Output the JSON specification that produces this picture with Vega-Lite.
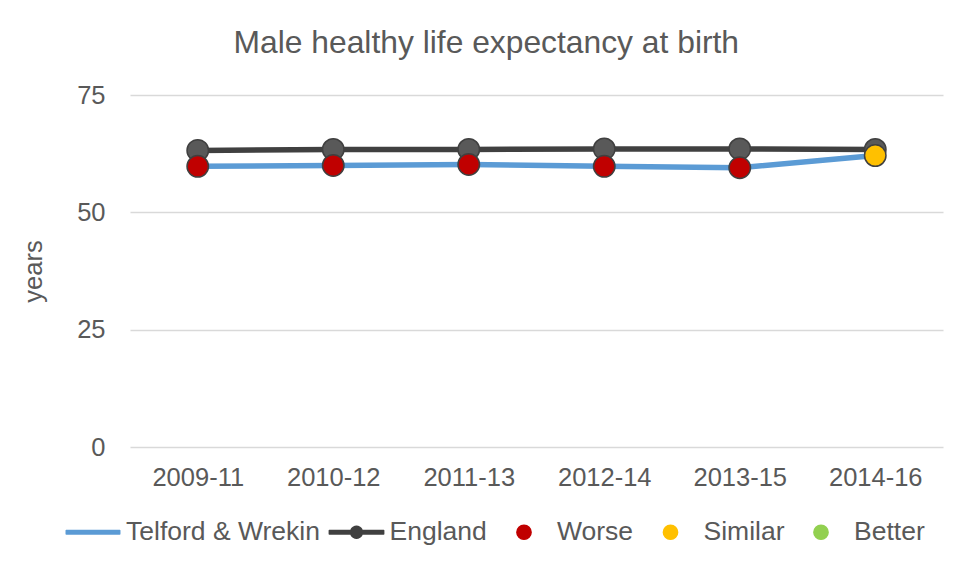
{
  "$schema": "https://vega.github.io/schema/vega-lite/v6.json",
  "width": 813,
  "height": 352,
  "autosize": {"type": "none"},
  "padding": {"left": 130, "top": 95, "right": 22, "bottom": 124},
  "background": "white",
  "title": {
    "text": "Male healthy life expectancy at birth",
    "fontSize": 31.8,
    "font": "Liberation Sans",
    "fontWeight": "normal",
    "color": "#595959",
    "anchor": "middle",
    "frame": "bounds",
    "baseline": "alphabetic",
    "offset": -2,
    "dx": 4
  },
  "config": {
    "font": "Liberation Sans",
    "view": {"stroke": null},
    "axis": {
      "labelFont": "Liberation Sans",
      "titleFont": "Liberation Sans",
      "labelColor": "#595959",
      "titleColor": "#595959",
      "labelFontSize": 25.5,
      "titleFontSize": 25.5,
      "titleFontWeight": "normal",
      "ticks": false,
      "domain": false,
      "gridColor": "#D9D9D9",
      "gridWidth": 1.3
    },
    "legend": {
      "labelFont": "Liberation Sans",
      "labelFontSize": 26.5,
      "labelColor": "#595959",
      "padding": 0
    }
  },
  "data": {
    "values": [
      {"period": "2009-11", "series": "Telford & Wrekin", "value": 59.8, "status": "Worse"},
      {"period": "2010-12", "series": "Telford & Wrekin", "value": 60.0, "status": "Worse"},
      {"period": "2011-13", "series": "Telford & Wrekin", "value": 60.2, "status": "Worse"},
      {"period": "2012-14", "series": "Telford & Wrekin", "value": 59.8, "status": "Worse"},
      {"period": "2013-15", "series": "Telford & Wrekin", "value": 59.5, "status": "Worse"},
      {"period": "2014-16", "series": "Telford & Wrekin", "value": 62.1, "status": "Similar"},
      {"period": "2009-11", "series": "England", "value": 63.2, "status": null},
      {"period": "2010-12", "series": "England", "value": 63.4, "status": null},
      {"period": "2011-13", "series": "England", "value": 63.4, "status": null},
      {"period": "2012-14", "series": "England", "value": 63.5, "status": null},
      {"period": "2013-15", "series": "England", "value": 63.5, "status": null},
      {"period": "2014-16", "series": "England", "value": 63.4, "status": null}
    ]
  },
  "encoding": {
    "x": {
      "field": "period",
      "type": "nominal",
      "scale": {"type": "point", "padding": 0.5},
      "axis": {"title": null, "labelAngle": 0, "labelPadding": 18, "grid": false}
    },
    "y": {
      "field": "value",
      "type": "quantitative",
      "scale": {"domain": [0, 75], "nice": false},
      "axis": {"title": "years", "values": [0, 25, 50, 75], "labelPadding": 25, "titlePadding": 30}
    }
  },
  "layer": [
    {
      "mark": {"type": "line", "strokeWidth": 5.5, "strokeJoin": "round", "strokeCap": "round"},
      "encoding": {
        "color": {
          "field": "series",
          "type": "nominal",
          "scale": {
            "domain": ["Telford & Wrekin", "England", "Worse", "Similar", "Better"],
            "range": ["#5B9BD5", "#404040", "#C00000", "#FFC000", "#92D050"]
          },
          "legend": {
            "title": null,
            "orient": "none",
            "direction": "horizontal",
            "legendX": -66,
            "legendY": 408,
            "symbolSize": 3136,
            "symbolStrokeWidth": 1.5,
            "labelOffset": 4,
            "columnPadding": 7.5,
            "labelLimit": 500,
            "labelFontSize": 26.5,
            "labelColor": "#595959",
            "encode": {
              "symbols": {
                "update": {
                  "shape": {"signal": "datum.value === 'Telford & Wrekin' ? 'M-0.955,-0.0625L0.955,-0.0625L0.955,0.0625L-0.955,0.0625Z' : datum.value === 'England' ? 'M-0.97,-0.0625L-0.2016,-0.0625L-0.1827,-0.1055L-0.1492,-0.1492L-0.1055,-0.1827L-0.0546,-0.2038L0,-0.211L0.0546,-0.2038L0.1055,-0.1827L0.1492,-0.1492L0.1827,-0.1055L0.2016,-0.0625L0.97,-0.0625L0.97,0.0625L0.2016,0.0625L0.1827,0.1055L0.1492,0.1492L0.1055,0.1827L0.0546,0.2038L0,0.211L-0.0546,0.2038L-0.1055,0.1827L-0.1492,0.1492L-0.1827,0.1055L-0.2016,0.0625L-0.97,0.0625Z' : 'M0.254,0C0.254,0.1403,0.1403,0.254,0,0.254C-0.1403,0.254,-0.254,0.1403,-0.254,0C-0.254,-0.1403,-0.1403,-0.254,0,-0.254C0.1403,-0.254,0.254,-0.1403,0.254,0Z'"},
                  "size": {"value": 3136},
                  "strokeWidth": {"value": 1.5},
                  "fill": {"signal": "datum.value === 'Telford & Wrekin' ? '#5B9BD5' : datum.value === 'England' ? '#595959' : datum.value === 'Worse' ? '#C00000' : datum.value === 'Similar' ? '#FFC000' : '#92D050'"},
                  "stroke": {"signal": "datum.value === 'Telford & Wrekin' ? '#5B9BD5' : '#404040'"},
                  "strokeJoin": {"value": "round"},
                  "opacity": {"value": 1},
                  "fillOpacity": {"value": 1},
                  "strokeOpacity": {"value": 1}
                }
              }
            }
          }
        }
      }
    },
    {
      "transform": [{"filter": "datum.series === 'England'"}],
      "mark": {"type": "point", "shape": "circle", "filled": true, "fill": "#595959", "stroke": "#404040", "strokeWidth": 1.5, "size": 460, "opacity": 1}
    },
    {
      "transform": [{"filter": "datum.series === 'Telford & Wrekin'"}],
      "mark": {"type": "point", "shape": "circle", "filled": true, "stroke": "#404040", "strokeWidth": 1.5, "size": 460, "opacity": 1},
      "encoding": {
        "fill": {"field": "status", "type": "nominal", "scale": {"domain": ["Telford & Wrekin", "England", "Worse", "Similar", "Better"], "range": ["#5B9BD5", "#404040", "#C00000", "#FFC000", "#92D050"]}, "legend": null}
      }
    }
  ]
}
